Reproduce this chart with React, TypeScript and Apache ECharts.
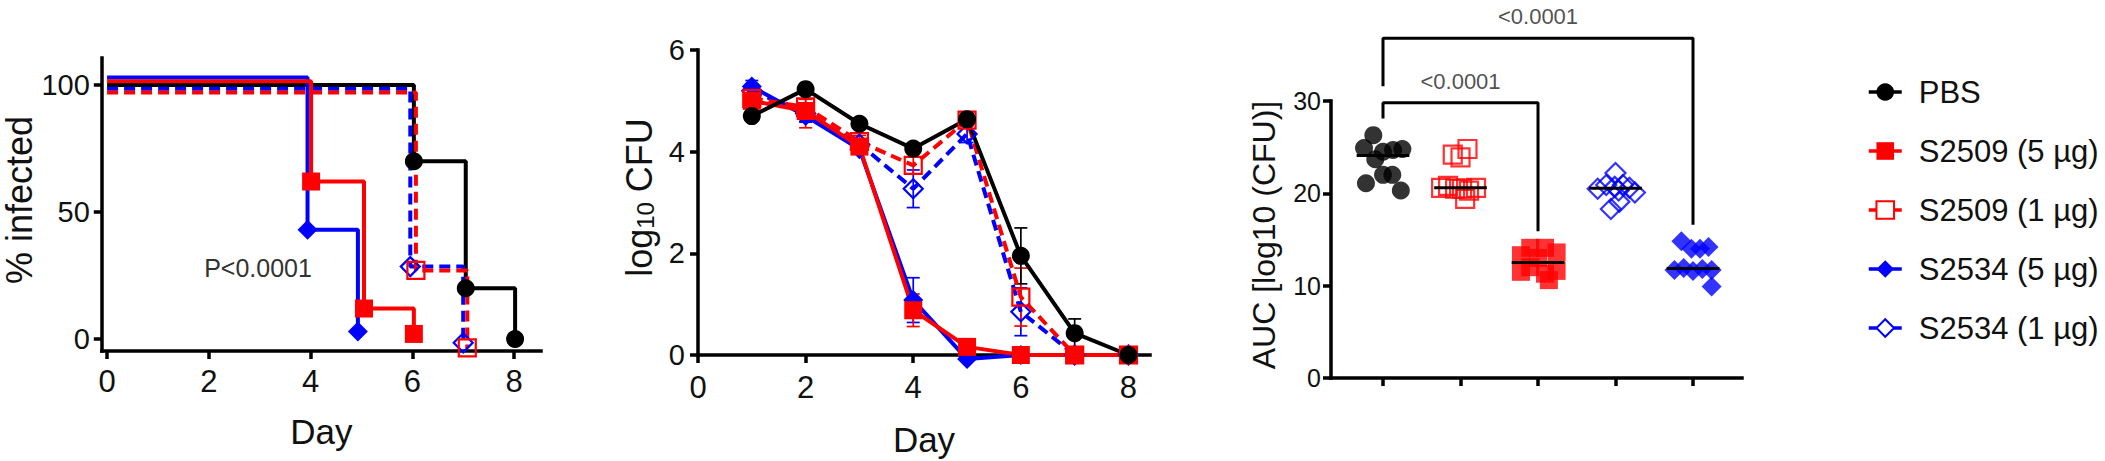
import React, { useEffect, useRef } from "react";
import * as echarts from "echarts";

const FONT = "'Liberation Sans', Arial, Helvetica, sans-serif";
const NARROW = "'Liberation Sans Narrow', 'Arial Narrow', 'Liberation Sans', Arial, sans-serif";
const RED = "#ff0000";
const BLUE = "#0000ff";
const BLACK = "#000000";
const TEXT = "#111111";

const groupNames = ["PBS", "S2509 (5 µg)", "S2509 (1 µg)", "S2534 (5 µg)", "S2534 (1 µg)"];

// ---------- Panel 1: % infected (Kaplan-Meier style steps) ----------
const kmPbsDays = [0, 6.03, 7.05, 8.02];
const kmPbs = [100, 70, 20, 0];
const kmS2509hDays = [0, 4.01, 5.05, 6.03];
const kmS2509h = [101.5, 62, 12, 2];
const kmS2509lDays = [0, 6.07, 7.08];
const kmS2509l = [97, 27, -3.5];
const kmS2534hDays = [0, 3.94, 4.93];
const kmS2534h = [103, 43, 3];
const kmS2534lDays = [0, 5.96, 7.0];
const kmS2534l = [98.5, 28.5, -1.5];
const kmTicksX = [0, 2, 4, 6, 8];
const kmTicksY = [0, 50, 100];
const kmPText = "P<0.0001";

// ---------- Panel 2: log10 CFU over days ----------
const cfuDays = [1, 2, 3, 4, 5, 6, 7, 8];
const cfuPbs = [4.7, 5.23, 4.55, 4.06, 4.64, 1.95, 0.43, 0];
const cfuPbsErr = [0.08, 0.08, 0.08, 0.1, 0.1, 0.55, 0.28, 0];
const cfuS2509h = [5.0, 4.8, 4.1, 0.88, 0.16, 0, 0, 0];
const cfuS2509hErr = [0.32, 0.33, 0.1, 0.32, 0.05, 0, 0, 0];
const cfuS2509l = [5.05, 4.88, 4.2, 3.73, 4.62, 1.14, 0, 0];
const cfuS2509lErr = [0.2, 0.15, 0.12, 0.17, 0.12, 0.57, 0, 0];
const cfuS2534h = [5.28, 4.7, 4.05, 1.08, -0.08, 0, 0, 0];
const cfuS2534hErr = [0.12, 0.12, 0.1, 0.44, 0, 0, 0, 0];
const cfuS2534l = [5.2, 4.75, 4.15, 3.27, 4.35, 0.85, 0, 0];
const cfuS2534lErr = [0.1, 0.15, 0.1, 0.37, 0.17, 0.47, 0, 0];
const cfuTicksX = [0, 2, 4, 6, 8];

// ---------- Panel 3: AUC scatter ----------
const aucPbs = [26.3, 24.9, 23.7, 24.5, 24.7, 24.8, 22.0, 22.0, 21.1, 20.3];
const aucPbsJitter = [-0.125, -0.245, -0.1, 0, 0.13, 0.25, 0, 0.12, -0.22, 0.23];
const aucS2509l = [24.2, 23.9, 24.8, 20.6, 20.8, 20.5, 20.5, 20.3, 20.6, 19.4];
const aucS2509lJitter = [-0.1, 0.0, 0.09, -0.25, -0.16, -0.07, 0.02, 0.11, 0.2, 0.06];
const aucS2509h = [13.3, 11.5, 14.1, 12.0, 13.0, 14.1, 11.3, 10.6, 13.6, 11.6];
const aucS2509hJitter = [-0.22, -0.22, -0.1, -0.1, 0.0, 0.09, 0.09, 0.14, 0.24, 0.24];
const aucS2534l = [22.2, 20.5, 20.9, 20.7, 20.9, 20.6, 20.1, 20.3, 19.1, 18.3];
const aucS2534lJitter = [0, -0.23, -0.12, -0.01, 0.095, 0.18, 0.25, 0.04, 0.05, -0.06];
const aucS2534h = [14.8, 14.0, 14.0, 14.2, 11.7, 11.9, 11.6, 11.8, 11.7, 9.9];
const aucS2534hJitter = [-0.15, -0.02, 0.09, 0.2, -0.24, -0.12, 0, 0.12, 0.24, 0.24];
const aucCategories = [0, 1, 2, 3, 4];
const comparisons = [
  { a: 0, b: 2, level: 29.8 },
  { a: 0, b: 4, level: 36.8 },
];
const pLabels = ["<0.0001", "<0.0001"];

// ---------- styles per group (order = groupNames) ----------
const groupStyle = [
  { color: BLACK, symbol: "circle", hollow: false, dashed: false, size: 18 },
  { color: RED, symbol: "rect", hollow: false, dashed: false, size: 18 },
  { color: RED, symbol: "rect", hollow: true, dashed: true, size: 17 },
  { color: BLUE, symbol: "diamond", hollow: false, dashed: false, size: 20 },
  { color: BLUE, symbol: "diamond", hollow: true, dashed: true, size: 19 },
];

function itemStyleFor(i: number) {
  const g = groupStyle[i];
  return g.hollow
    ? { color: "rgba(255,255,255,0)", borderColor: g.color, borderWidth: 2.2 }
    : { color: g.color, borderWidth: 0 };
}
function lineStyleFor(i: number, width = 4) {
  const g = groupStyle[i];
  return { color: g.color, width, type: g.dashed ? [11, 6] : "solid" };
}

function median(arr: number[]) {
  const s = [...arr].sort((a, b) => a - b);
  const n = s.length;
  return n % 2 ? s[(n - 1) / 2] : (s[n / 2 - 1] + s[n / 2]) / 2;
}

function axisLine() {
  return { show: true, onZero: false, lineStyle: { color: BLACK, width: 3.5, cap: "square" } };
}
function tick(custom?: number[]) {
  const t: any = { show: true, length: 8, lineStyle: { color: BLACK, width: 3.5 } };
  if (custom) t.customValues = custom;
  return t;
}

export default function App() {
  const ref = useRef<HTMLDivElement>(null);

  useEffect(() => {
    document.body.style.margin = "0";
    if (!ref.current) return;
    const chart = echarts.init(ref.current, null, { renderer: "svg" });

    const kmDays = [kmPbsDays, kmS2509hDays, kmS2509lDays, kmS2534hDays, kmS2534lDays];
    const kmVals = [kmPbs, kmS2509h, kmS2509l, kmS2534h, kmS2534l];
    const cfuVals = [cfuPbs, cfuS2509h, cfuS2509l, cfuS2534h, cfuS2534l];
    const cfuErrs = [cfuPbsErr, cfuS2509hErr, cfuS2509lErr, cfuS2534hErr, cfuS2534lErr];
    const aucVals = [aucPbs, aucS2509h, aucS2509l, aucS2534h, aucS2534l];
    const aucJit = [aucPbsJitter, aucS2509hJitter, aucS2509lJitter, aucS2534hJitter, aucS2534lJitter];
    // category order in panel 3: PBS, S2509(1), S2509(5), S2534(1), S2534(5)
    const aucOrder = [0, 2, 1, 4, 3];

    const series: any[] = [];

    // Panel 2 (first, so the legend takes its icons from these series)
    const drawOrder2 = [4, 3, 2, 1, 0];
    drawOrder2.forEach((gi) => {
      const color = groupStyle[gi].color;
      series.push({
        type: "custom",
        xAxisIndex: 1,
        yAxisIndex: 1,
        silent: true,
        clip: false,
        data: cfuDays.map((d, k) => [d, cfuVals[gi][k], cfuErrs[gi][k]]),
        encode: { x: 0, y: 1 },
        renderItem: (params: any, api: any) => {
          const x = api.value(0);
          const y = api.value(1);
          const e = api.value(2);
          if (!e) return null;
          const p1 = api.coord([x, y + e]);
          const p2 = api.coord([x, y - e]);
          const hw = 6.5;
          const st = { stroke: color, lineWidth: 1.7 };
          return {
            type: "group",
            children: [
              { type: "line", shape: { x1: p1[0], y1: p1[1], x2: p2[0], y2: p2[1] }, style: st },
              { type: "line", shape: { x1: p1[0] - hw, y1: p1[1], x2: p1[0] + hw, y2: p1[1] }, style: st },
              { type: "line", shape: { x1: p2[0] - hw, y1: p2[1], x2: p2[0] + hw, y2: p2[1] }, style: st },
            ],
          };
        },
      });
    });
    drawOrder2.forEach((gi) => {
      const g = groupStyle[gi];
      series.push({
        name: groupNames[gi],
        type: "line",
        xAxisIndex: 1,
        yAxisIndex: 1,
        clip: false,
        symbol: g.symbol,
        symbolSize: g.size,
        itemStyle: itemStyleFor(gi),
        lineStyle: lineStyleFor(gi),
        data: cfuDays.map((d, k) => [d, cfuVals[gi][k]]),
      });
    });

    // Panel 1 step lines
    [0, 3, 4, 1, 2].forEach((gi) => {
      const g = groupStyle[gi];
      series.push({
        name: groupNames[gi],
        type: "line",
        step: "end",
        xAxisIndex: 0,
        yAxisIndex: 0,
        clip: false,
        symbol: g.symbol,
        symbolSize: g.size,
        itemStyle: itemStyleFor(gi),
        lineStyle: lineStyleFor(gi),
        data: kmDays[gi].map((d, k) =>
          k === 0 ? { value: [d, kmVals[gi][k]], symbol: "none" } : [d, kmVals[gi][k]]
        ),
      });
    });

    // Panel 3 scatter
    aucOrder.forEach((gi, cat) => {
      const g = groupStyle[gi];
      series.push({
        name: groupNames[gi],
        type: "scatter",
        xAxisIndex: 2,
        yAxisIndex: 2,
        clip: false,
        symbol: g.symbol,
        symbolSize: g.symbol === "diamond" ? 20 : 18,
        itemStyle: itemStyleFor(gi),
        data: aucVals[gi].map((v, k) => [aucCategories[cat] + aucJit[gi][k], v]),
      });
    });
    // medians
    aucOrder.forEach((gi, cat) => {
      const m = median(aucVals[gi]);
      series.push({
        type: "line",
        xAxisIndex: 2,
        yAxisIndex: 2,
        silent: true,
        clip: false,
        symbol: "none",
        lineStyle: { color: BLACK, width: 3 },
        data: [
          [aucCategories[cat] - 0.34, m],
          [aucCategories[cat] + 0.34, m],
        ],
      });
    });
    // brackets
    const catMax = aucOrder.map((gi) => Math.max(...aucVals[gi]));
    const legGap = 1.8;
    comparisons.forEach((c, k) => {
      const base = (cat: number) => {
        let b = catMax[cat];
        for (let j = 0; j < k; j++) {
          const o = comparisons[j];
          if (o.a <= cat && cat <= o.b) b = Math.max(b, o.level);
        }
        return b + legGap;
      };
      series.push({
        type: "line",
        xAxisIndex: 2,
        yAxisIndex: 2,
        silent: true,
        clip: false,
        symbol: "none",
        lineStyle: { color: BLACK, width: 3 },
        data: [
          [aucCategories[c.a], base(c.a)],
          [aucCategories[c.a], c.level],
          [aucCategories[c.b], c.level],
          [aucCategories[c.b], base(c.b)],
        ],
      });
      series.push({
        type: "scatter",
        xAxisIndex: 2,
        yAxisIndex: 2,
        silent: true,
        clip: false,
        symbolSize: 1,
        itemStyle: { color: "rgba(0,0,0,0)" },
        label: {
          show: true,
          position: "top",
          distance: 10,
          formatter: pLabels[k],
          fontSize: 22,
          fontFamily: FONT,
          color: "#222",
        },
        data: [[(aucCategories[c.a] + aucCategories[c.b]) / 2, c.level]],
      });
    });

    const labelBase = { color: TEXT, fontFamily: FONT };
    const narrowBase = { color: TEXT, fontFamily: NARROW };

    const option: any = {
      animation: false,
      backgroundColor: "#ffffff",
      textStyle: { fontFamily: FONT },
      grid: [
        { left: 101.8, top: 58, width: 439.2, height: 293, outerBoundsMode: "none", containLabel: false },
        { left: 698, top: 50, width: 452, height: 305, outerBoundsMode: "none", containLabel: false },
        { left: 1331, top: 101, width: 411, height: 277, outerBoundsMode: "none", containLabel: false },
      ],
      xAxis: [
        {
          type: "value",
          gridIndex: 0,
          min: -0.104,
          max: 8.529,
          axisLine: axisLine(),
          axisTick: tick(kmTicksX),
          axisLabel: { ...narrowBase, fontSize: 31, margin: 15, customValues: kmTicksX },
          splitLine: { show: false },
          name: "Day",
          nameLocation: "middle",
          nameGap: 62,
          nameMoveOverlap: false,
          nameTextStyle: { ...narrowBase, fontSize: 35, lineHeight: 36 },
        },
        {
          type: "value",
          gridIndex: 1,
          min: 0,
          max: 8.4,
          axisLine: axisLine(),
          axisTick: tick(cfuTicksX),
          axisLabel: { ...narrowBase, fontSize: 31, margin: 17, customValues: cfuTicksX },
          splitLine: { show: false },
          name: "Day",
          nameLocation: "middle",
          nameGap: 66,
          nameMoveOverlap: false,
          nameTextStyle: { ...narrowBase, fontSize: 35, lineHeight: 36 },
        },
        {
          type: "value",
          gridIndex: 2,
          min: -0.671,
          max: 4.632,
          axisLine: axisLine(),
          axisTick: tick(aucCategories),
          axisLabel: { show: false, customValues: aucCategories },
          splitLine: { show: false },
        },
      ],
      yAxis: [
        {
          type: "value",
          gridIndex: 0,
          min: -4.72,
          max: 110.63,
          axisLine: axisLine(),
          axisTick: tick(kmTicksY),
          axisLabel: { ...labelBase, fontSize: 29, margin: 12, customValues: kmTicksY },
          splitLine: { show: false },
          name: "% infected",
          nameLocation: "middle",
          nameGap: 64,
          nameMoveOverlap: false,
          nameTextStyle: { ...narrowBase, fontSize: 36, lineHeight: 36, padding: [0, 0, 0, 9] },
        },
        {
          type: "value",
          gridIndex: 1,
          min: 0,
          max: 6,
          interval: 2,
          axisLine: axisLine(),
          axisTick: tick(),
          axisLabel: { ...labelBase, fontSize: 29, margin: 13 },
          splitLine: { show: false },
          name: "{a|log}{b|10}{a| CFU}",
          nameLocation: "middle",
          nameGap: 41,
          nameMoveOverlap: false,
          nameTextStyle: {
            ...narrowBase,
            padding: [0, 0, 0, 10],
            rich: {
              a: { fontSize: 36, lineHeight: 36, verticalAlign: "top", color: TEXT, fontFamily: NARROW },
              b: { fontSize: 24, lineHeight: 24, padding: [18, 0, 0, 0], verticalAlign: "bottom", color: TEXT, fontFamily: NARROW },
            },
          },
        },
        {
          type: "value",
          gridIndex: 2,
          min: 0,
          max: 30,
          interval: 10,
          axisLine: axisLine(),
          axisTick: tick(),
          axisLabel: { ...labelBase, fontSize: 25, margin: 10 },
          splitLine: { show: false },
          name: "AUC [log10 (CFU)]",
          nameLocation: "middle",
          nameGap: 50,
          nameMoveOverlap: false,
          nameTextStyle: { ...narrowBase, fontSize: 32, lineHeight: 34, padding: [0, 0, 0, 9] },
        },
      ],
      legend: {
        orient: "vertical",
        left: 1867,
        top: 74,
        padding: 0,
        itemWidth: 33,
        itemHeight: 22,
        itemGap: 23,
        selectedMode: false,
        textStyle: { fontSize: 31, fontFamily: FONT, color: TEXT, lineHeight: 36, padding: [0, 0, 0, 12] },
        data: groupNames.map((n, i) => ({
          name: n,
          lineStyle: { type: "solid", width: 3.5 },
          itemStyle: groupStyle[i].hollow ? { color: "#ffffff" } : {},
        })),
      },
      graphic: [
        {
          type: "text",
          x: 258,
          y: 268,
          silent: true,
          style: {
            text: kmPText,
            fontSize: 25,
            fontFamily: FONT,
            fill: "#333333",
            align: "center",
            verticalAlign: "middle",
          },
        },
      ],
      series,
    };

    chart.setOption(option);
    return () => {
      chart.dispose();
    };
  }, []);

  return <div ref={ref} style={{ width: 2105, height: 461, display: "block" }} />;
}
